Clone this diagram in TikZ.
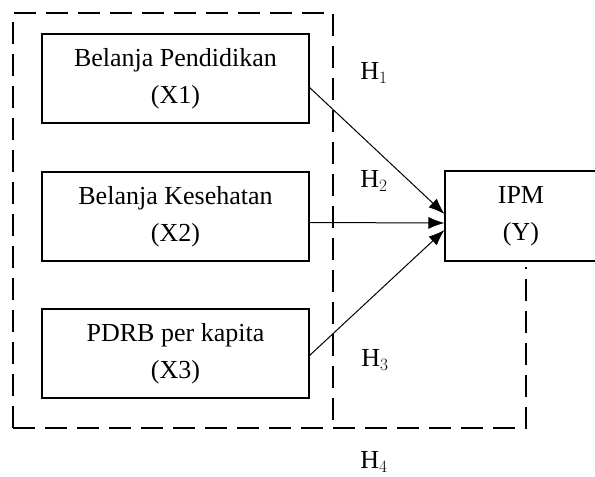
\documentclass[tikz,border=0pt]{standalone}
\usepackage{fontspec}
\setmainfont{Liberation Serif}
\usetikzlibrary{arrows.meta}

\begin{document}
\begin{tikzpicture}[x=1pt,y=-1pt,
  varbox/.style={draw,line width=1.1pt,minimum width=267pt,minimum height=89pt,align=center,
    font=\fontsize{26}{37}\selectfont},
  dashbox/.style={line width=1.2pt,dash pattern=on 22pt off 10pt},
  hyp/.style={font=\fontsize{26}{28}\selectfont},
  arr/.style={-{Latex[length=16pt,width=12pt]},line width=1pt}]
\useasboundingbox (0,0) rectangle (595,477);
% variables
\node[varbox] (x1) at (175.5,78.5) {Belanja Pendidikan\\(X1)};
\node[varbox] (x2) at (175.5,216.5) {Belanja Kesehatan\\(X2)};
\node[varbox] (x3) at (175.5,353.5) {PDRB per kapita\\(X3)};
\node[varbox,minimum width=152pt,minimum height=90pt] (ipm) at (521,216) {IPM\\(Y)};
% hypotheses
\node[hyp] (h1) at (374,73) {H$_1$};
\node[hyp] (h2) at (374,181) {H$_2$};
\node[hyp] (h3) at (375,360) {H$_3$};
\node[hyp] (h4) at (374,462) {H$_4$};
% paths
\draw[arr] ([yshift=-9pt]x1.east) -- ([yshift=2pt]ipm.west);
\draw[arr] ([yshift=-6pt]x2.east) -- ([yshift=-7pt]ipm.west);
\draw[arr] ([yshift=-2pt]x3.east) -- ([yshift=-14pt]ipm.west);
% joint effect
\coordinate (c1) at (13,428);
\coordinate (c2) at (333,428);
\coordinate (c3) at (526,428);
\coordinate (c4) at ([xshift=5pt,yshift=-5pt]ipm.south);
\draw[dashbox] (c1) -- (13,13) -- (333,13) -- (c2);
\draw[dashbox] (c1) -- (c3) -- (c4);
\end{tikzpicture}
\end{document}
